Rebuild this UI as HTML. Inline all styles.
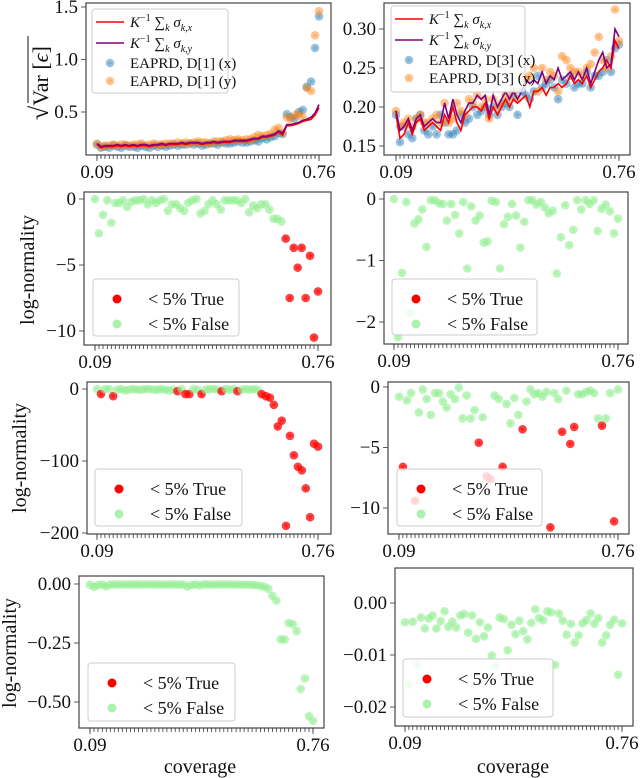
<!DOCTYPE html>
<html><head><meta charset="utf-8"><style>
html,body{margin:0;padding:0;background:#fff;}
svg{display:block;font-family:"Liberation Serif","DejaVu Serif",serif;}
</style></head><body>
<svg id="fig" width="640" height="778" viewBox="0 0 640 778" xmlns="http://www.w3.org/2000/svg"></svg>
<script>
// ---- data ----
const coverage = [0.090,0.102,0.114,0.127,0.139,0.151,0.163,0.175,0.187,0.200,0.212,0.224,0.236,0.248,0.261,0.273,0.285,0.297,0.309,0.321,0.334,0.346,0.358,0.370,0.382,0.395,0.407,0.419,0.431,0.443,0.455,0.468,0.480,0.492,0.504,0.516,0.529,0.541,0.553,0.565,0.577,0.589,0.602,0.614,0.626,0.638,0.650,0.663,0.675,0.687,0.699,0.711,0.723,0.736,0.748,0.760];
const xTickLabels = ["0.09","0.76"];
const xTickValues = [0.09,0.76];

const sigmaX1 = [0.19,0.16,0.17,0.17,0.17,0.18,0.17,0.18,0.17,0.18,0.17,0.18,0.18,0.17,0.18,0.18,0.19,0.18,0.19,0.19,0.19,0.20,0.19,0.20,0.20,0.20,0.19,0.20,0.20,0.21,0.20,0.21,0.21,0.21,0.22,0.22,0.22,0.22,0.23,0.24,0.24,0.26,0.26,0.27,0.28,0.31,0.28,0.37,0.37,0.38,0.39,0.41,0.42,0.43,0.47,0.54];
const sigmaY1 = [0.20,0.17,0.18,0.18,0.18,0.19,0.18,0.19,0.18,0.19,0.18,0.19,0.19,0.18,0.19,0.19,0.20,0.19,0.20,0.20,0.20,0.21,0.20,0.21,0.21,0.21,0.20,0.21,0.21,0.22,0.21,0.22,0.22,0.22,0.23,0.23,0.23,0.23,0.24,0.25,0.25,0.27,0.27,0.28,0.29,0.32,0.30,0.38,0.38,0.39,0.40,0.42,0.43,0.45,0.49,0.57];
const eaprdX1 = [0.19,0.16,0.17,0.16,0.18,0.17,0.16,0.18,0.17,0.17,0.16,0.18,0.17,0.16,0.18,0.17,0.18,0.17,0.18,0.19,0.18,0.19,0.19,0.20,0.19,0.20,0.18,0.19,0.20,0.20,0.19,0.21,0.20,0.20,0.21,0.22,0.21,0.21,0.22,0.23,0.22,0.25,0.24,0.26,0.27,0.30,0.29,0.48,0.45,0.44,0.50,0.52,0.74,0.79,1.11,1.41];
const eaprdY1 = [0.20,0.17,0.18,0.18,0.19,0.18,0.19,0.19,0.18,0.19,0.19,0.20,0.18,0.19,0.20,0.19,0.19,0.20,0.20,0.20,0.21,0.20,0.21,0.20,0.21,0.22,0.21,0.21,0.20,0.22,0.22,0.22,0.23,0.24,0.23,0.24,0.23,0.24,0.24,0.26,0.28,0.27,0.28,0.29,0.33,0.35,0.30,0.45,0.43,0.47,0.48,0.45,0.73,0.70,1.23,1.46];

const sigmaX2 = [0.19,0.16,0.165,0.18,0.165,0.18,0.185,0.17,0.175,0.18,0.175,0.17,0.19,0.18,0.20,0.18,0.17,0.19,0.195,0.20,0.20,0.195,0.205,0.185,0.20,0.19,0.20,0.21,0.20,0.21,0.205,0.21,0.215,0.20,0.22,0.22,0.225,0.215,0.225,0.225,0.23,0.225,0.23,0.24,0.23,0.235,0.23,0.24,0.225,0.235,0.245,0.25,0.26,0.25,0.285,0.275];
const sigmaY2 = [0.195,0.17,0.175,0.185,0.17,0.185,0.19,0.175,0.18,0.185,0.18,0.18,0.205,0.185,0.21,0.19,0.18,0.195,0.205,0.205,0.215,0.21,0.215,0.19,0.215,0.20,0.21,0.22,0.21,0.22,0.21,0.22,0.235,0.23,0.235,0.23,0.245,0.23,0.24,0.235,0.25,0.235,0.24,0.245,0.235,0.245,0.235,0.25,0.23,0.245,0.26,0.27,0.25,0.255,0.30,0.29];
const eaprdX2 = [0.19,0.155,0.175,0.165,0.16,0.185,0.19,0.17,0.165,0.175,0.165,0.19,0.18,0.165,0.165,0.17,0.19,0.18,0.185,0.20,0.19,0.195,0.20,0.19,0.20,0.19,0.20,0.205,0.20,0.215,0.19,0.22,0.215,0.21,0.22,0.24,0.225,0.23,0.235,0.225,0.21,0.235,0.23,0.24,0.225,0.23,0.23,0.245,0.225,0.24,0.24,0.245,0.26,0.245,0.275,0.28];
const eaprdY2 = [0.195,0.175,0.18,0.185,0.175,0.185,0.19,0.18,0.18,0.185,0.19,0.18,0.205,0.18,0.185,0.205,0.195,0.19,0.21,0.205,0.215,0.20,0.21,0.185,0.21,0.20,0.205,0.215,0.21,0.22,0.21,0.24,0.235,0.24,0.25,0.22,0.25,0.235,0.245,0.24,0.22,0.265,0.26,0.25,0.245,0.245,0.24,0.25,0.255,0.27,0.29,0.26,0.25,0.265,0.325,0.285];

const logNorm3 = [0,-2.6,-1.2,-0.1,-1.8,-0.3,-0.3,-0.1,-0.6,-0.2,-0.1,-0.1,0,-0.4,-0.1,-0.3,-0.1,0,-0.9,-0.4,-0.4,-0.7,-0.9,-0.3,-0.1,0,-1.1,-0.9,-0.4,-0.1,-0.4,-0.8,-0.1,-0.1,-0.1,-0.1,-0.3,0,-1.0,-0.5,-0.7,-0.4,-0.4,-0.8,-1.5,-1.5,-1.7,-3.0,-7.5,-3.7,-5.2,-3.7,-7.5,-4.3,-10.5,-7.0];
const sig3 = "00000000000000000000000000000000000000000000000111111111".split("").map(Number);
const logNorm4 = [0,-2.25,-1.2,-0.05,-1.85,-0.4,-0.33,-0.17,-0.78,-0.02,-0.02,-0.07,-0.08,-0.35,-0.08,-0.26,-0.56,-0.05,-1.13,-0.12,-0.35,-0.27,-0.71,-0.69,-0.03,-0.05,-1.13,-0.41,-0.29,-0.08,-0.27,-0.79,-0.37,-0.02,-0.02,-0.09,-0.05,-0.14,-0.23,-0.19,-1.21,-0.62,-0.10,-0.75,-0.50,-0.02,-0.17,-0.02,-0.08,-0.02,-0.52,-0.16,-0.09,-0.20,-0.56,-0.32];
const sig4 = "00000000000000000000000000000000000000000000000000000000".split("").map(Number);
const logNorm5 = [0,-7,0,0,-10,-1,0,-2,-1,0,-1,-1,0,0,-1,-1,0,-1,-2,-1,-3,0,-7,-7,0,-1,-7,-1,0,0,-1,-3,0,-1,0,-3,-1,0,-1,0,-1,-7,-10,-12,-22,-52,-44,-190,-65,-92,-108,-113,-138,-178,-76,-80];
const sig5 = "01001000000000000000101100100001000100000111111111111111".split("").map(Number);
const logNorm6 = [-0.8,-6.6,-1.1,-0.5,-9.4,-2.1,-0.2,-1.0,-2.3,-0.5,-0.5,-1.2,-1.7,-0.6,-1.0,-0.05,-2.6,-0.7,-2.6,-1.9,-4.6,-2.5,-7.4,-7.6,-0.7,-1.0,-6.6,-1.4,-3.0,-0.9,-2.3,-3.5,-1.2,-0.2,-0.6,-0.5,-0.8,-0.4,-11.6,-0.5,-1.0,-3.7,-0.3,-4.7,-3.3,-0.6,-0.6,-0.4,-0.3,-0.5,-2.6,-3.2,-2.6,-0.5,-11.1,-0.2];
const sig6 = "01001000000000000000101100100001000000100101100000010010".split("").map(Number);
const logNorm7 = [-0.003,-0.012,-0.004,-0.002,-0.01,-0.002,-0.003,-0.002,-0.002,-0.003,-0.002,-0.002,-0.002,-0.003,-0.002,-0.002,-0.002,-0.003,-0.002,-0.003,-0.002,-0.002,-0.003,-0.002,-0.011,-0.004,-0.002,-0.006,-0.002,-0.002,-0.003,-0.002,-0.002,-0.003,-0.002,-0.002,-0.003,-0.002,-0.003,-0.003,-0.004,-0.005,-0.008,-0.012,-0.02,-0.05,-0.07,-0.235,-0.235,-0.165,-0.17,-0.20,-0.445,-0.40,-0.56,-0.58];
const sig7 = "00000000000000000000000000000000000000000000000000000000".split("").map(Number);
const logNorm8 = [-0.0037,-0.0157,-0.0036,-0.0119,-0.0028,-0.0049,-0.003,-0.0024,-0.0049,-0.0035,-0.0016,-0.0046,-0.0036,-0.0047,-0.0024,-0.0021,-0.0057,-0.0024,-0.0069,-0.0037,-0.0064,-0.0047,-0.0101,-0.012,-0.0028,-0.0031,-0.0091,-0.0042,-0.006,-0.0034,-0.0054,-0.007,-0.0038,-0.0012,-0.0029,-0.0033,-0.0016,-0.0018,-0.0119,-0.002,-0.0034,-0.0061,-0.004,-0.0076,-0.0062,-0.0039,-0.0033,-0.002,-0.004,-0.0029,-0.0076,-0.0062,-0.0042,-0.0032,-0.0138,-0.0039];
const sig8 = "00000000000000000000000000000000000000000000000000000000".split("").map(Number);

const yTicks1 = [0.5,1.0,1.5], yTickLabels1 = ["0.5","1.0","1.5"];
const yTicks2 = [0.15,0.20,0.25,0.30], yTickLabels2 = ["0.15","0.20","0.25","0.30"];
const yTicks3 = [0,-5,-10], yTickLabels3 = ["0","−5","−10"];
const yTicks4 = [0,-1,-2], yTickLabels4 = ["0","−1","−2"];
const yTicks5 = [0,-100,-200], yTickLabels5 = ["0","−100","−200"];
const yTicks6 = [0,-5,-10], yTickLabels6 = ["0","−5","−10"];
const yTicks7 = [0,-0.25,-0.5], yTickLabels7 = ["0.00","−0.25","−0.50"];
const yTicks8 = [0,-0.01,-0.02], yTickLabels8 = ["0.00","−0.01","−0.02"];

// ---- drawing ----
const NS = "http://www.w3.org/2000/svg";
const svg = document.getElementById("fig");
function mk(tag, attrs, parent){ const e=document.createElementNS(NS,tag); for(const k in attrs) e.setAttribute(k,attrs[k]); (parent||svg).appendChild(e); return e; }

function makeAxes(box, xr, y0px, yval0, scale){
  return {
    box: box,
    x: c => xr[0] + (c-0.09)/(0.76-0.09)*(xr[1]-xr[0]),
    y: v => y0px - (v-yval0)*scale
  };
}

function drawFrame(g, ax, yTicks, yLabels){
  const [l,t,r,b] = ax.box;
  const ticks = mk("g",{},g);
  
  
  coverage.forEach(c => { const x=ax.x(c); mk("line",{x1:x,x2:x,y1:b,y2:b+4,stroke:"#333","stroke-width":0.8},ticks); });
  xTickValues.forEach((v,i)=>{
    const x=ax.x(v);
    mk("line",{x1:x,x2:x,y1:b,y2:b+6,stroke:"#333","stroke-width":0.8},ticks);
    const t1=mk("text",{x:x,y:b+23,"font-size":19,"text-anchor":"middle",fill:"#111"},g);
    t1.textContent=xTickLabels[i];
    
    
  });
  yTicks.forEach((v,i)=>{
    const y=ax.y(v);
    mk("line",{x1:l-5,x2:l,y1:y,y2:y,stroke:"#333","stroke-width":0.8},g);
    const t2=mk("text",{x:l-8,y:y+6,"font-size":19,"text-anchor":"end",fill:"#111"},g);
    t2.textContent=yLabels[i];
    
    
  });
}
function drawBox(g, ax){
  const [l,t,r,b]=ax.box;
  const rc=mk("rect",{x:l,y:t,width:r-l,height:b-t,fill:"none",stroke:"#444","stroke-width":1.2},g);
  
  
}
function dot(g, cx, cy, color, op){
  mk("circle",{cx:cx,cy:cy,r:4.3,fill:color,"fill-opacity":op},g);
  mk("circle",{cx:cx,cy:cy,r:1.8,fill:color,"fill-opacity":op*0.6},g);
}
function clipFor(ax, id){
  const [l,t,r,b]=ax.box;
  const cp=mk("clipPath",{id:id});
  mk("rect",{x:l,y:t,width:r-l,height:b-t},cp);
  return "url(#"+id+")";
}

function linePanel(name, ax, sx, sy, px, py, yT, yL, legendBox, dlabel){
  const g=mk("g",{});
  
  
  drawFrame(g, ax, yT, yL);
  const pg=mk("g",{"clip-path":clipFor(ax,name+"-clip")},g);
  const bl=mk("g",{},pg);
  
  
  px.forEach((v,i)=>dot(bl, ax.x(coverage[i]), ax.y(v), "#1f77b4", 0.45));
  const or=mk("g",{},pg);
  
  
  py.forEach((v,i)=>dot(or, ax.x(coverage[i]), ax.y(v), "#ff7f0e", 0.45));
  const lx=mk("polyline",{points:sx.map((v,i)=>ax.x(coverage[i])+","+ax.y(v)).join(" "),fill:"none",stroke:"#ff0000","stroke-width":1.6},pg);
  
  
  const ly=mk("polyline",{points:sy.map((v,i)=>ax.x(coverage[i])+","+ax.y(v)).join(" "),fill:"none",stroke:"#800080","stroke-width":1.6},pg);
  
  
  drawBox(g, ax);
  // legend
  const [lx0,ly0,lw,lh]=legendBox;
  const lg=mk("g",{},g);
  
  
  mk("rect",{x:lx0,y:ly0,width:lw,height:lh,rx:3,fill:"#fff","fill-opacity":0.8,stroke:"#ccc","stroke-width":1},lg);
  const rows=[ly0+13,ly0+34,ly0+54,ly0+72];
  const tx=lx0+38;
  [["#ff0000","x"],["#800080","y"]].forEach((s,k)=>{
    const e=mk("g",{},lg);
    
    
    mk("line",{x1:lx0+4,x2:lx0+32,y1:rows[k],y2:rows[k],stroke:s[0],"stroke-width":1.6},e);
    const t=mk("text",{x:tx,y:rows[k]+5,"font-size":15,"font-style":"italic",fill:"#111"},e);
    t.innerHTML='K<tspan dy="-6" font-size="10" font-style="normal">−1</tspan><tspan dy="6" font-style="normal"> ∑</tspan><tspan dy="4" font-size="10">k</tspan><tspan dy="-4"> σ</tspan><tspan dy="4" font-size="10">k,'+s[1]+'</tspan>';
  });
  [["#1f77b4","x"],["#ff7f0e","y"]].forEach((s,k)=>{
    const e=mk("g",{},lg);
    
    
    dot(e, lx0+18, rows[k+2], s[0], 0.45);
    const t=mk("text",{x:tx,y:rows[k+2]+5,"font-size":15,fill:"#111"},e);
    t.textContent="EAPRD, "+dlabel+" ("+s[1]+")";
  });
}

function scatterPanel(name, ax, vals, sig, yT, yL, legendBox){
  const g=mk("g",{});
  
  
  drawFrame(g, ax, yT, yL);
  const pg=mk("g",{"clip-path":clipFor(ax,name+"-clip")},g);
  
  
  vals.forEach((v,i)=>{
    if(sig[i]) dot(pg, ax.x(coverage[i]), ax.y(v), "#ff0000", 0.75);
    else dot(pg, ax.x(coverage[i]), ax.y(v), "#90ee90", 0.6);
  });
  drawBox(g, ax);
  const [lx0,ly0,lw,lh]=legendBox;
  const lg=mk("g",{},g);
  
  
  mk("rect",{x:lx0,y:ly0,width:lw,height:lh,rx:3,fill:"#fff","fill-opacity":0.8,stroke:"#ccc","stroke-width":1},lg);
  [["#ff0000",1,"True"],["#90ee90",0.75,"False"]].forEach((s,k)=>{
    const e=mk("g",{},lg);
    
    
    const yy=ly0+20+k*25;
    mk("circle",{cx:lx0+24,cy:yy,r:4.5,fill:s[0],"fill-opacity":s[1]},e);
    const t=mk("text",{x:lx0+55,y:yy+6,"font-size":18,fill:"#111"},e);
    t.textContent="< 5% "+s[2];
  });
}

linePanel("panel-var-d1", makeAxes([86,3,331,155],[97,319],7,1.5,105), sigmaX1, sigmaY1, eaprdX1, eaprdY1, yTicks1, yTickLabels1, [92,9,136,84], "D[1]");
linePanel("panel-var-d3", makeAxes([384,3,630,155],[396,619],29,0.30,780), sigmaX2, sigmaY2, eaprdX2, eaprdY2, yTicks2, yTickLabels2, [391,6,134,86], "D[3]");
scatterPanel("panel-lognorm-r2-left", makeAxes([84,192,331,345],[95,318],199,0,13.2), logNorm3, sig3, yTicks3, yTickLabels3, [93,279,146,57]);
scatterPanel("panel-lognorm-r2-right", makeAxes([384,192,628,344],[394,618],199,0,61.5), logNorm4, sig4, yTicks4, yTickLabels4, [392,279,145,56]);
scatterPanel("panel-lognorm-r3-left", makeAxes([87,382,331,534],[97,318],389,0,0.72), logNorm5, sig5, yTicks5, yTickLabels5, [95,469,147,57]);
scatterPanel("panel-lognorm-r3-right", makeAxes([388,382,629,534],[399,618],387,0,12.1), logNorm6, sig6, yTicks6, yTickLabels6, [397,469,145,57]);
scatterPanel("panel-lognorm-r4-left", makeAxes([79,576,324,728],[90,313],584,0,236), logNorm7, sig7, yTicks7, yTickLabels7, [88,663,147,58]);
scatterPanel("panel-lognorm-r4-right", makeAxes([395,568,633,726],[405,622],603,0,5200), logNorm8, sig8, yTicks8, yTickLabels8, [403,659,150,58]);

// axis titles
function ytitle(x,y,txt,name){
  const t=mk("text",{x:0,y:0,"font-size":20,"text-anchor":"middle",fill:"#111",transform:"translate("+x+","+y+") rotate(-90)"});
  t.textContent=txt;
  
  
}
ytitle(34,270,"log-normality","y-axis-title-row2");
ytitle(26,458,"log-normality","y-axis-title-row3");
ytitle(16,653,"log-normality","y-axis-title-row4");
const vt=mk("g",{transform:"translate(48,80) rotate(-90)"});


const vtt=mk("text",{x:-40,y:0,"font-size":22,fill:"#111"},vt);
vtt.innerHTML='<tspan font-size="26">√</tspan>Var [<tspan font-style="italic">ϵ</tspan>]';
mk("line",{x1:-23,x2:44,y1:-20,y2:-20,stroke:"#111","stroke-width":1},vt);
[[200,"x-axis-title-left"],[513,"x-axis-title-right"]].forEach(a=>{
  const t=mk("text",{x:a[0],y:773,"font-size":20,"text-anchor":"middle",fill:"#111"});
  t.textContent="coverage";
  
  
});
</script>
</body></html>
